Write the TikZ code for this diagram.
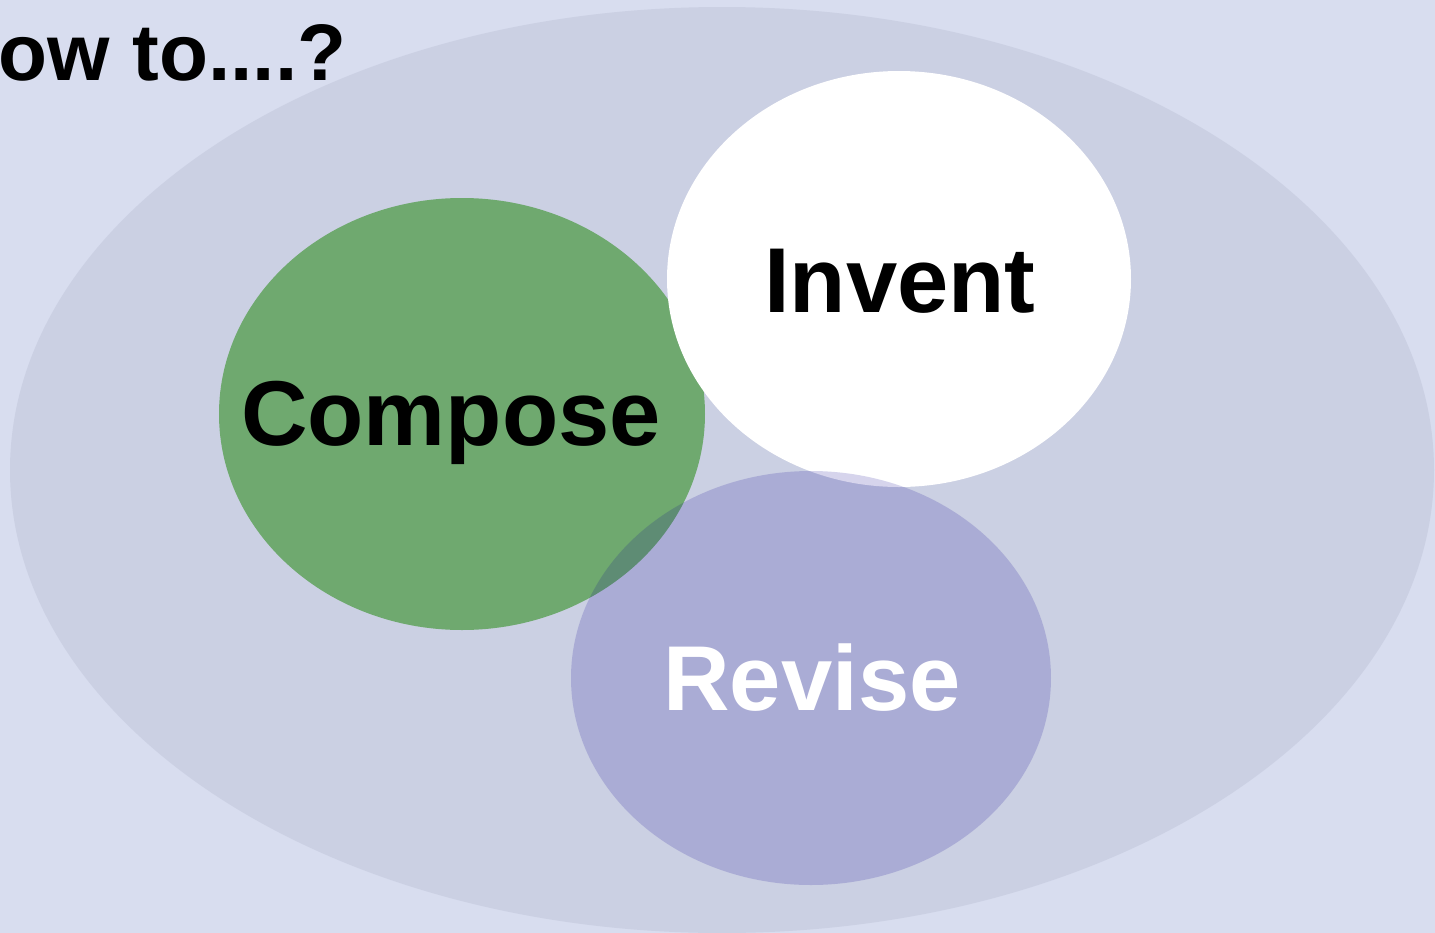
\documentclass[tikz,border=0pt]{standalone}
\usepackage{fontspec}
\setmainfont{Liberation Sans}
\definecolor{bgcol}{RGB}{216,221,239}
\definecolor{bigcol}{RGB}{203,208,227}
\definecolor{greencol}{RGB}{111,169,111}
\definecolor{navycol}{RGB}{12,0,146}
\tikzset{
  lbl/.style={font=\fontsize{26.2pt}{30pt}\selectfont\bfseries, inner sep=0pt},
}
\begin{document}
\begin{tikzpicture}[x=0.01cm,y=-0.01cm]
\useasboundingbox (0,0) rectangle (1435,933);
\clip (0,0) rectangle (1435,933);
\fill[bgcol] (0,0) rectangle (1435,933);
\fill[bigcol] (722,470) ellipse [x radius=712, y radius=463];
\fill[greencol] (462,414) ellipse [x radius=243, y radius=216];
\fill[white] (899,279) ellipse [x radius=232, y radius=208];
\fill[navycol, fill opacity=0.17] (811,678) ellipse [x radius=240, y radius=207];
\node[lbl, font=\fontsize{22.8pt}{26pt}\selectfont\bfseries, anchor=base east] (title) at (347,80) {How to....?};
\node[lbl, anchor=base] (compose) at (451,445) {Compose};
\node[lbl, anchor=base] (invent) at (900,312) {Invent};
\node[lbl, anchor=base, text=white] (revise) at (812,710) {Revise};
\end{tikzpicture}
\end{document}
